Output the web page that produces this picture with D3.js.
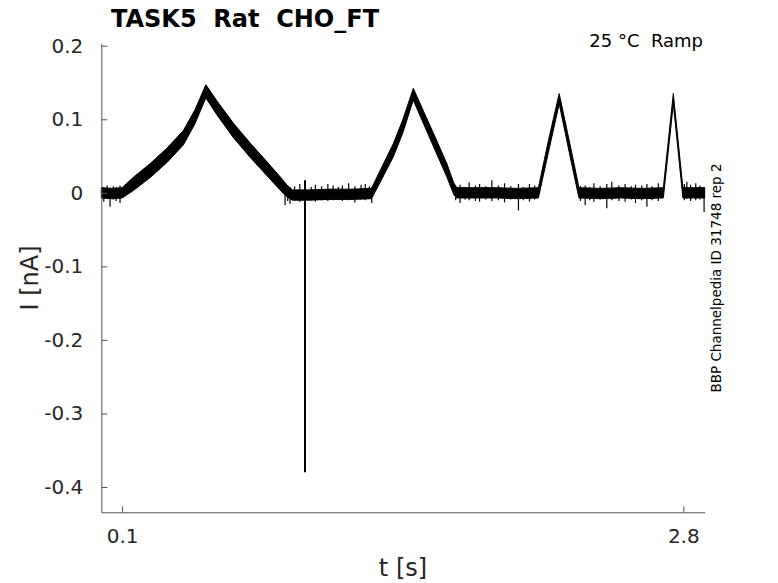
<!DOCTYPE html>
<html>
<head>
<meta charset="utf-8">
<script src="https://cdn.jsdelivr.net/npm/d3@7"></script>
<style>
  body { margin: 0; background: #fff; }
  text { font-family: "DejaVu Sans", sans-serif; }
</style>
</head>
<body>
<div id="chart"></div>
<script>
// current trace, centre of the overlaid sweeps [t (s), I (nA)]
const traceTimes = [0, 0.05, 0.1, 0.154, 0.234, 0.316, 0.395, 0.45, 0.503,
  0.555, 0.635, 0.716, 0.796, 0.86, 0.895, 0.92, 1.0, 1.1, 1.2, 1.3,
  1.341, 1.405, 1.45, 1.501, 1.598, 1.662, 1.695, 1.71, 1.8, 1.9, 2.0, 2.103,
  2.151, 2.203, 2.255, 2.298, 2.4, 2.5, 2.6, 2.704, 2.752, 2.798, 2.85, 2.903];
const traceValues = [0, -0.001, 0, 0.012, 0.03, 0.051, 0.075, 0.103, 0.138,
  0.116, 0.085, 0.058, 0.033, 0.013, 0.002, -0.003, -0.003, -0.002, -0.002, -0.001,
  0.022, 0.058, 0.09, 0.134, 0.072, 0.031, 0.006, 0, 0, 0, -0.001, 0,
  0.063, 0.128, 0.058, 0, -0.001, 0, -0.001, 0, 0.128, 0, 0, 0];
// half spread of the overlaid sweeps at each point (nA)
const traceSpread = [0.007, 0.007, 0.007, 0.009, 0.0095, 0.0098, 0.0098, 0.0095, 0.009,
  0.0095, 0.0098, 0.0098, 0.0095, 0.009, 0.008, 0.007, 0.007, 0.007, 0.007, 0.007,
  0.008, 0.009, 0.009, 0.008, 0.009, 0.009, 0.008, 0.007, 0.007, 0.007, 0.007, 0.007,
  0.008, 0.007, 0.008, 0.007, 0.007, 0.007, 0.007, 0.007, 0.007, 0.007, 0.007, 0.007];

// noise excursions seen on the baselines [t, low, high]
const spikeTimes = [0.012, 0.028, 0.042, 0.058, 0.071, 0.09,
  0.884, 0.897, 0.908, 0.93, 0.955, 1.01, 1.03, 1.06, 1.09, 1.115, 1.14, 1.16, 1.19, 1.22, 1.25, 1.27, 1.29, 1.301,
  1.705, 1.726, 1.75, 1.77, 1.8, 1.82, 1.85, 1.879, 1.91, 1.94, 1.97, 2.007, 2.03, 2.06, 2.085,
  2.305, 2.328, 2.35, 2.37, 2.4, 2.432, 2.456, 2.49, 2.52, 2.55, 2.57, 2.6, 2.625, 2.65, 2.68,
  2.805, 2.817, 2.835, 2.86, 2.88, 2.9];
const spikeLow = [-0.012, -0.008, -0.019, -0.009, -0.011, -0.014,
  -0.017, -0.011, -0.015, -0.01, -0.012, -0.009, -0.012, -0.01, -0.011, -0.01, -0.009, -0.011, -0.01, -0.013, -0.009, -0.01, -0.008, -0.014,
  -0.01, -0.014, -0.009, -0.01, -0.011, -0.012, -0.009, -0.011, -0.01, -0.013, -0.009, -0.024, -0.01, -0.012, -0.009,
  -0.011, -0.017, -0.01, -0.012, -0.009, -0.021, -0.01, -0.011, -0.012, -0.009, -0.014, -0.01, -0.019, -0.01, -0.011,
  -0.01, -0.008, -0.011, -0.01, -0.009, -0.026];
const spikeHigh = [0.008, 0.01, 0.007, 0.009, 0.008, 0.01,
  0.007, 0.01, 0.008, 0.009, 0.012, 0.008, 0.011, 0.009, 0.012, 0.01, 0.008, 0.01, 0.013, 0.009, 0.011, 0.012, 0.009, 0.008,
  0.009, 0.011, 0.008, 0.014, 0.01, 0.012, 0.009, 0.017, 0.01, 0.013, 0.009, 0.012, 0.008, 0.012, 0.01,
  0.009, 0.01, 0.008, 0.013, 0.009, 0.012, 0.015, 0.01, 0.012, 0.009, 0.011, 0.01, 0.012, 0.009, 0.013,
  0.012, 0.015, 0.011, 0.013, 0.01, 0.008];

// artefact at ~0.98 s
const artefactTime = 0.98;
const artefactLow = -0.38;
const artefactHigh = 0.017;

const yTicks = [-0.4, -0.3, -0.2, -0.1, 0, 0.1, 0.2];
const xTicks = [0.1, 2.8];

const width = 778;
const height = 583;

const svg = d3.select("#chart")
  .append("svg")
  .attr("width", width)
  .attr("height", height);

const x = d3.scaleLinear().domain([0, 2.903]).range([101.3, 704.7]);
const y = d3.scaleLinear().domain([-0.4344, 0.2033]).range([512.3, 43.3]);

// trace drawn as a band between the lowest and highest sweep
const trace = traceTimes.map((t, i) => [t, traceValues[i], traceSpread[i]]);
const band = d3.area()
  .x(d => x(d[0]))
  .y0(d => y(d[1] - d[2]))
  .y1(d => y(d[1] + d[2]));

svg.append("path")
  .datum(trace)
  .attr("d", band)
  .attr("fill", "#000")
  .attr("stroke", "#000")
  .attr("stroke-width", 1);

svg.selectAll(".spike")
  .data(spikeTimes)
  .enter().append("line")
  .attr("class", "spike")
  .attr("x1", d => x(d)).attr("x2", d => x(d))
  .attr("y1", (d, i) => y(spikeLow[i]))
  .attr("y2", (d, i) => y(spikeHigh[i]))
  .attr("stroke", "#000")
  .attr("stroke-width", 1.2);

svg.append("line")
  .attr("x1", x(artefactTime)).attr("x2", x(artefactTime))
  .attr("y1", y(artefactLow)).attr("y2", y(artefactHigh))
  .attr("stroke", "#000")
  .attr("stroke-width", 2);

// axes, ticks pointing inwards
const fmt = d => d === 0 ? "0" : d.toFixed(1);

const yAxis = svg.append("g")
  .attr("transform", `translate(${x.range()[0]},0)`)
  .call(d3.axisLeft(y).tickValues(yTicks).tickFormat(fmt)
    .tickSizeInner(-6).tickSizeOuter(0).tickPadding(18));

const xAxis = svg.append("g")
  .attr("transform", `translate(0,${y.range()[0]})`)
  .call(d3.axisBottom(x).tickValues(xTicks).tickFormat(fmt)
    .tickSizeInner(-6).tickSizeOuter(0).tickPadding(17));

[yAxis, xAxis].forEach(g => {
  g.select(".domain").attr("stroke", "#555").attr("stroke-width", 1);
  g.selectAll(".tick line").attr("stroke", "#555");
  g.selectAll(".tick text")
    .attr("fill", "#262626")
    .style("font-family", "DejaVu Sans")
    .style("font-size", "20px");
});

// labels
svg.append("text")
  .attr("x", 245).attr("y", 27)
  .attr("text-anchor", "middle")
  .style("font-size", "24px").style("font-weight", "bold")
  .style("white-space", "pre")
  .text("TASK5  Rat  CHO_FT");

svg.append("text")
  .attr("x", 703).attr("y", 47)
  .attr("text-anchor", "end")
  .style("font-size", "18px")
  .style("white-space", "pre")
  .text("25 °C  Ramp");

svg.append("text")
  .attr("x", 403).attr("y", 576)
  .attr("text-anchor", "middle")
  .attr("fill", "#262626")
  .style("font-size", "24px")
  .text("t [s]");

svg.append("text")
  .attr("transform", "translate(38,278) rotate(-90)")
  .attr("text-anchor", "middle")
  .attr("fill", "#262626")
  .style("font-size", "24px")
  .text("I [nA]");

svg.append("text")
  .attr("transform", "translate(721,278) rotate(-90)")
  .attr("text-anchor", "middle")
  .style("font-size", "13.5px")
  .text("BBP Channelpedia ID 31748 rep 2");
</script>
</body>
</html>
